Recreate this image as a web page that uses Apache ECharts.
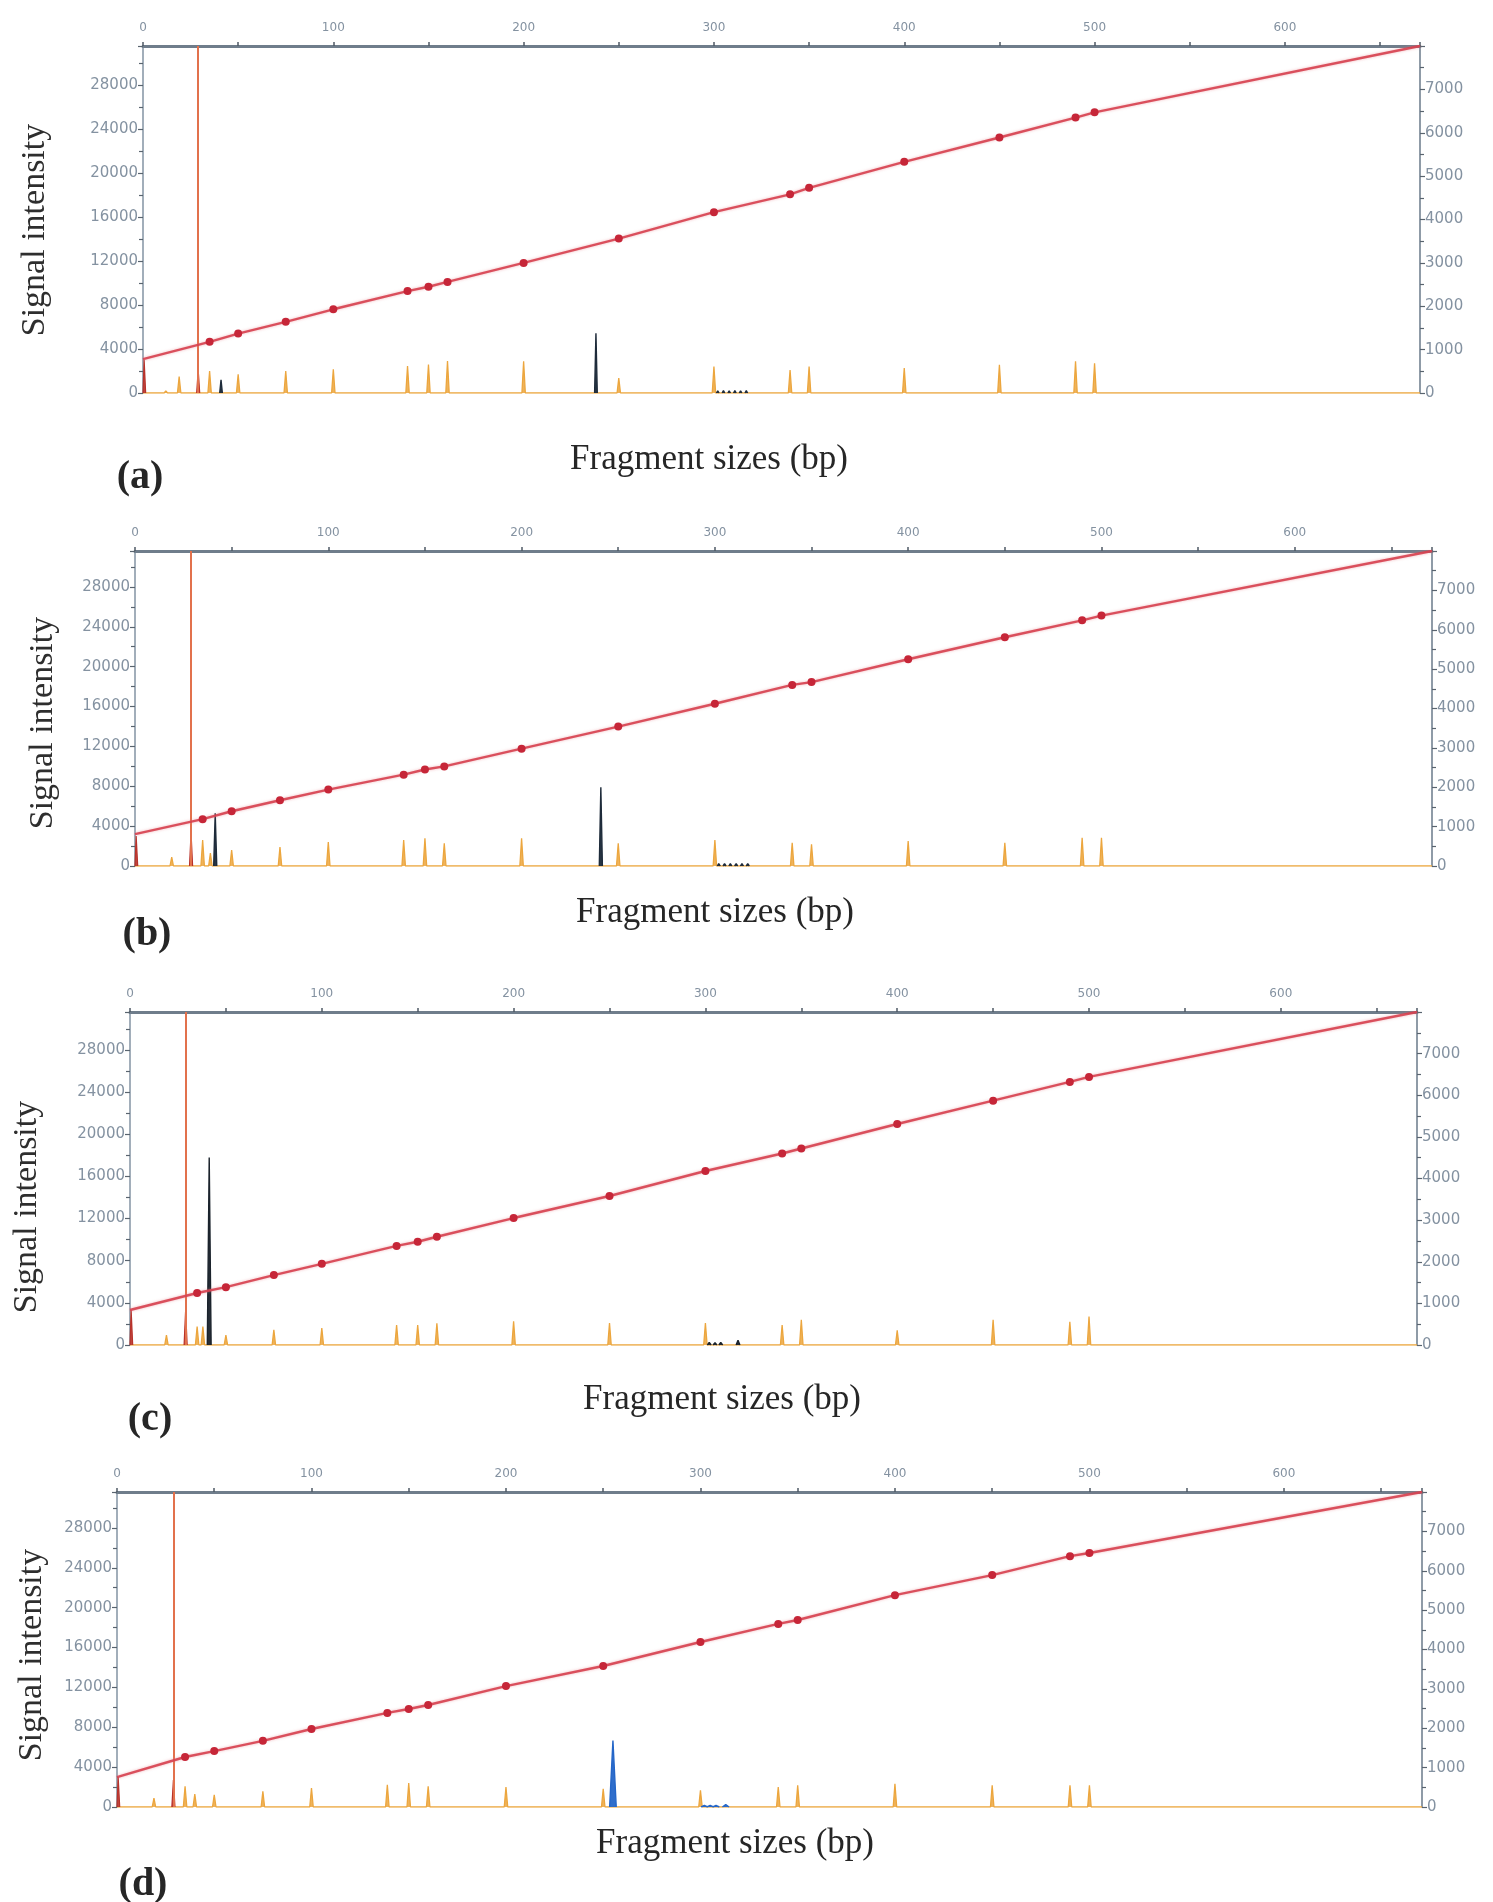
<!DOCTYPE html>
<html>
<head>
<meta charset="utf-8">
<style>
  html, body { margin: 0; padding: 0; background: #fff; }
  #chart { width: 1493px; height: 1902px; }
</style>
<script src="https://cdn.jsdelivr.net/npm/echarts@6/dist/echarts.min.js"></script>
</head>
<body>
<div id="chart"></div>
<script>
// size standard fragments (bp), marked with dots on the sizing curve
const sizeStd = [35, 50, 75, 100, 139, 150, 160, 200, 250, 300, 340, 350, 400, 450, 490, 500];
const bpMax = 671;
const markerBp = 29;
const xTicks = 100;

// sizing curve (right axis): value at 0 bp, at each standard, at bpMax
const sizingA = [780, 1180, 1370, 1640, 1930, 2350, 2450, 2560, 3000, 3560, 4170, 4580, 4730, 5330, 5890, 6350, 6470, 8000];
const sizingB = [810, 1190, 1390, 1670, 1940, 2320, 2450, 2530, 2980, 3540, 4120, 4600, 4670, 5250, 5810, 6240, 6360, 8000];
const sizingC = [840, 1250, 1390, 1680, 1950, 2380, 2480, 2600, 3050, 3580, 4180, 4600, 4720, 5310, 5870, 6320, 6440, 8000];
const sizingD = [760, 1270, 1420, 1680, 1980, 2390, 2490, 2590, 3070, 3580, 4190, 4650, 4750, 5380, 5890, 6370, 6450, 8000];

// orange (size standard dye) peak heights at each standard
const orangeA = [2000, 1700, 2000, 2150, 2450, 2600, 2900, 2880, 1360, 2400, 2100, 2400, 2270, 2580, 2880, 2700];
const orangeB = [2600, 1600, 1900, 2400, 2600, 2770, 2270, 2770, 2270, 2600, 2330, 2170, 2500, 2330, 2830, 2830];
const orangeC = [1750, 950, 1430, 1600, 1900, 1900, 2060, 2240, 2080, 2080, 1900, 2400, 1400, 2400, 2200, 2700];
const orangeD = [2070, 1230, 1570, 1900, 2230, 2400, 2070, 2000, 1830, 1670, 2000, 2170, 2330, 2170, 2170, 2170];

// other orange peaks (bp, height)
const extraPosA = [12, 19, 640, 665], extraA = [200, 1500, 100, 80];
const extraPosB = [19, 39], extraB = [900, 1300];
const extraPosC = [19, 38], extraC = [950, 1750];
const extraPosD = [19, 40], extraD = [900, 1300];

// red dye peaks
const redPos = [0.6, 29];
const redA = [3000, 2100], redB = [3000, 3300], redC = [3300, 3300], redD = [3000, 2700];

// dark (black / blue) dye peaks
const darkPosA = [41, 238, 302, 305, 308, 311, 314, 317], darkA = [1200, 5450, 200, 220, 200, 220, 200, 220];
const darkPosB = [41.5, 241, 302, 305, 308, 311, 314, 317], darkB = [5300, 7900, 250, 230, 250, 230, 250, 230];
const darkPosC = [41.3, 302, 305, 308, 317], darkC = [17800, 250, 230, 250, 450];
const darkPosD = [255, 302, 305, 308, 313], darkD = [6670, 150, 160, 150, 250];

const leftMax = 31600;
const rightMax = 8000;

const panels = [
  { tag: '(a)', sizing: sizingA, orange: orangeA, exPos: extraPosA, ex: extraA, red: redA, darkPos: darkPosA, dark: darkA, darkColor: '#1e2b3a', darkW: 0.7 },
  { tag: '(b)', sizing: sizingB, orange: orangeB, exPos: extraPosB, ex: extraB, red: redB, darkPos: darkPosB, dark: darkB, darkColor: '#1e2b3a', darkW: 0.8 },
  { tag: '(c)', sizing: sizingC, orange: orangeC, exPos: extraPosC, ex: extraC, red: redC, darkPos: darkPosC, dark: darkC, darkColor: '#1b232c', darkW: 1.0 },
  { tag: '(d)', sizing: sizingD, orange: orangeD, exPos: extraPosD, ex: extraD, red: redD, darkPos: darkPosD, dark: darkD, darkColor: '#2466c8', darkW: 1.7 }
];

// page layout of each panel
const layout = [
  { left: 143, right: 73, top: 46, height: 347, title: [709, 460], tag: [140, 478], ylab: [35, 230] },
  { left: 135, right: 61, top: 551, height: 315, title: [715, 913], tag: [147, 935], ylab: [43, 723] },
  { left: 130, right: 76, top: 1012, height: 333, title: [722, 1400], tag: [150, 1420], ylab: [27, 1207] },
  { left: 117, right: 71, top: 1492, height: 315, title: [735, 1844], tag: [143, 1885], ylab: [32, 1655] }
];

// each peak drawn as a narrow triangle on the zero baseline;
// without a baseline the peaks are split by gaps
function spikes(pos, hts, hw, withBase) {
  const pts = pos.map((p, i) => [p, hts[i]]).sort((a, b) => a[0] - b[0]);
  const out = withBase ? [[0, 0]] : [];
  pts.forEach(([p, h]) => {
    out.push([Math.max(0, p - hw), 0], [p, h], [p + hw, 0]);
    if (!withBase) out.push([p + hw, '-']);
  });
  if (withBase) out.push([bpMax, 0]);
  return out;
}

const axisGrey = '#6f7d8b';
const labelGrey = '#8492a1';
const plain = v => String(v);

const grid = [], xAxis = [], yAxis = [], series = [], graphic = [];

panels.forEach((p, i) => {
  const L = layout[i];
  grid.push({ left: L.left, right: L.right, top: L.top, height: L.height });

  xAxis.push({
    gridIndex: i, type: 'value', position: 'top', min: 0, max: bpMax, interval: xTicks,
    axisLine: { show: true, onZero: false, lineStyle: { color: axisGrey, width: 3 } },
    axisTick: { show: true, length: 4, lineStyle: { color: '#4f5a66', width: 1.5 } },
    minorTick: { show: true, splitNumber: 2, length: 4, lineStyle: { color: '#4f5a66', width: 1.5 } },
    axisLabel: { color: labelGrey, fontSize: 12, margin: 12, fontFamily: 'DejaVu Sans', showMaxLabel: false, formatter: plain },
    splitLine: { show: false }
  });

  yAxis.push({
    gridIndex: i, type: 'value', position: 'left', min: 0, max: leftMax, interval: 4000,
    axisLine: { show: true, onZero: false, lineStyle: { color: '#8393a3', width: 1.5 } },
    axisTick: { show: true, length: 5, lineStyle: { color: '#59646f', width: 1.2 } },
    minorTick: { show: true, splitNumber: 2, length: 4, lineStyle: { color: '#59646f', width: 1.2 } },
    axisLabel: { color: labelGrey, fontSize: 15, margin: 5, fontFamily: 'DejaVu Sans', showMaxLabel: false, formatter: plain },
    splitLine: { show: false }
  });
  yAxis.push({
    gridIndex: i, type: 'value', position: 'right', min: 0, max: rightMax, interval: 1000,
    axisLine: { show: true, onZero: false, lineStyle: { color: '#6a7a8a', width: 1.5 } },
    axisTick: { show: true, length: 5, lineStyle: { color: '#59646f', width: 1.2 } },
    minorTick: { show: true, splitNumber: 2, length: 4, lineStyle: { color: '#59646f', width: 1.2 } },
    axisLabel: { color: labelGrey, fontSize: 15, margin: 5, fontFamily: 'DejaVu Sans', showMaxLabel: false, formatter: plain },
    splitLine: { show: false }
  });

  // orange trace with its baseline
  series.push({
    type: 'line', xAxisIndex: i, yAxisIndex: 2 * i, symbol: 'none', z: 2,
    data: spikes(sizeStd.concat(p.exPos), p.orange.concat(p.ex), 0.9, true),
    lineStyle: { color: '#eca63e', width: 1.3 },
    areaStyle: { color: '#eca63e', opacity: 0.85 },
    markLine: {
      silent: true, symbol: 'none', label: { show: false },
      lineStyle: { color: '#e2714c', width: 2, type: 'solid' },
      data: [{ xAxis: markerBp }]
    }
  });
  // red dye
  series.push({
    type: 'line', xAxisIndex: i, yAxisIndex: 2 * i, symbol: 'none', z: 3, connectNulls: false,
    data: spikes(redPos, p.red, 0.8, false),
    lineStyle: { color: '#b8322a', width: 1.2 },
    areaStyle: { color: '#b8322a', opacity: 0.9 }
  });
  // dark dye
  series.push({
    type: 'line', xAxisIndex: i, yAxisIndex: 2 * i, symbol: 'none', z: 3, connectNulls: false,
    data: spikes(p.darkPos, p.dark, p.darkW, false),
    lineStyle: { color: p.darkColor, width: 1.4 },
    areaStyle: { color: p.darkColor, opacity: 0.95 }
  });
  // sizing curve
  const s = p.sizing;
  const curve = [{ value: [0, s[0]], symbol: 'none' }]
    .concat(sizeStd.map((bp, k) => ({ value: [bp, s[k + 1]] })))
    .concat([{ value: [bpMax, s[s.length - 1]], symbol: 'none' }]);
  series.push({
    type: 'line', xAxisIndex: i, yAxisIndex: 2 * i + 1, z: 5,
    data: curve, symbol: 'circle', symbolSize: 8,
    itemStyle: { color: '#c62638' },
    lineStyle: { color: '#d6404f', width: 2.4, opacity: 0.9, shadowColor: 'rgba(230,120,130,0.6)', shadowBlur: 3 }
  });

  graphic.push({
    type: 'text', x: L.title[0], y: L.title[1],
    style: { text: 'Fragment sizes (bp)', font: '35px "Liberation Serif"', fill: '#262626', textAlign: 'center', textVerticalAlign: 'middle' }
  });
  graphic.push({
    type: 'text', x: L.tag[0], y: L.tag[1],
    style: { text: p.tag, font: 'bold 40px "Liberation Serif"', fill: '#262626', textAlign: 'center', textVerticalAlign: 'middle' }
  });
  graphic.push({
    type: 'text', x: L.ylab[0], y: L.ylab[1], rotation: Math.PI / 2,
    style: { text: 'Signal intensity', font: '34px "Liberation Serif"', fill: '#2e2e2e', textAlign: 'center', textVerticalAlign: 'middle' }
  });
});

const chart = echarts.init(document.getElementById('chart'), null, { renderer: 'canvas' });
chart.setOption({
  animation: false,
  backgroundColor: '#ffffff',
  grid, xAxis, yAxis, series, graphic
});
</script>
</body>
</html>
